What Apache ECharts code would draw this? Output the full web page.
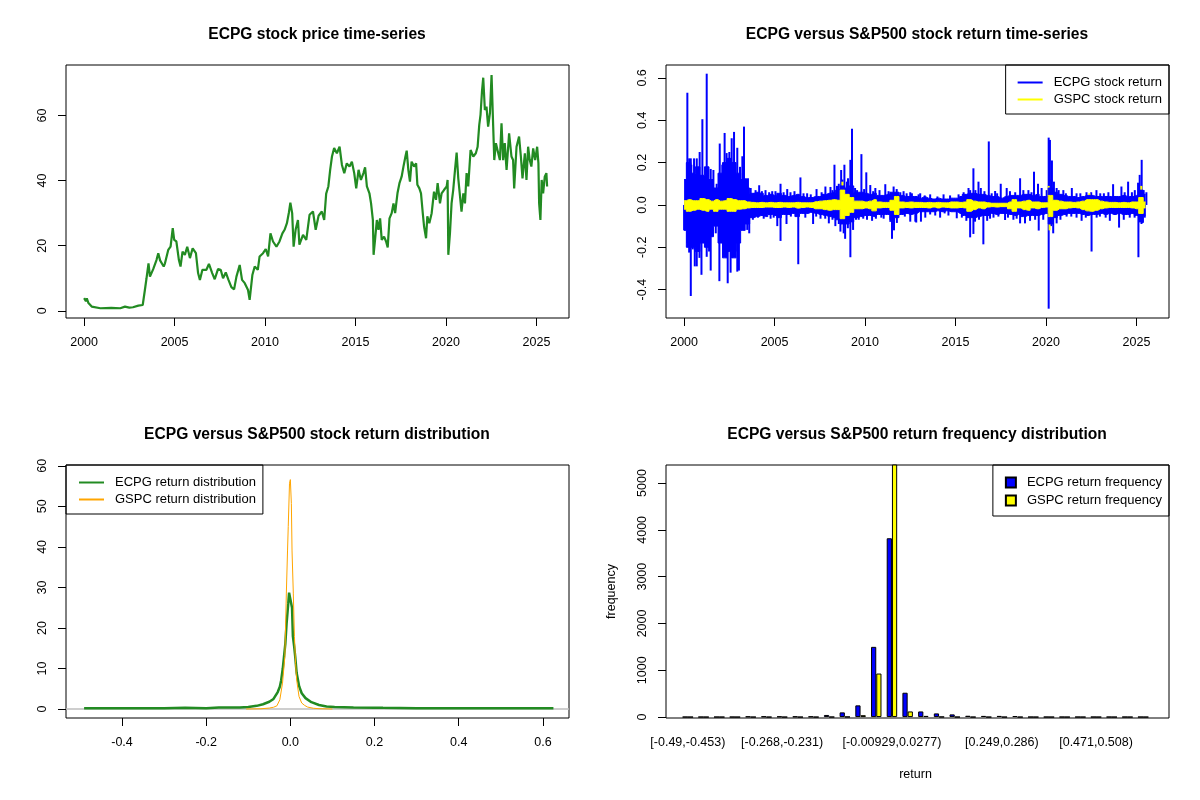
<!DOCTYPE html>
<html lang="en">
<head>
<meta charset="UTF-8" />
<title>ECPG versus S&amp;P500</title>
<style>
  html, body { margin: 0; padding: 0; background: #fff; }
  #chart { width: 1200px; height: 800px; }
</style>
<script src="https://cdn.jsdelivr.net/npm/echarts@6/dist/echarts.min.js"></script>
</head>
<body>
<div id="chart"></div>
<script>
// tick positions
const yearTicks = [2000, 2005, 2010, 2015, 2020, 2025]
const priceTicks = [0, 20, 40, 60]
const returnTicks = [-0.4, -0.2, 0, 0.2, 0.4, 0.6]
const densityTicks = [0, 10, 20, 30, 40, 50, 60]
const freqTicks = [0, 1000, 2000, 3000, 4000, 5000]

// ECPG close price [year, price]
const ecpgPrice = [
  [2000.0,3.9],[2000.1,3.0],[2000.15,3.8],[2000.24,2.4],[2000.42,1.3],[2000.9,0.8],[2001.5,0.9],[2001.55,1.2],
  [2002.0,0.8],[2002.26,1.3],[2002.5,1.0],[2002.7,1.1],[2003.0,1.6],[2003.24,1.8],[2003.36,6.4],[2003.45,10],
  [2003.56,14.6],[2003.64,10.5],[2003.82,12.8],[2004.0,15.6],[2004.1,17.7],[2004.2,15.5],[2004.28,16],[2004.4,13.6],
  [2004.47,14.6],[2004.65,18.7],[2004.78,19.7],[2004.9,25.4],[2004.98,21.8],[2005.1,21.3],[2005.24,15.6],[2005.33,13.6],
  [2005.44,18.2],[2005.57,17.2],[2005.7,19.7],[2005.85,16.2],[2006.0,19.2],[2006.18,17.7],[2006.3,11.6],[2006.4,9.5],
  [2006.54,12.6],[2006.76,12.6],[2006.9,14.4],[2007.08,11.6],[2007.22,9.7],[2007.4,12.8],[2007.55,12.6],[2007.68,10],
  [2007.83,11.8],[2007.98,9.5],[2008.14,7.3],[2008.29,6.6],[2008.42,10.5],[2008.6,14.1],[2008.73,9.5],[2008.88,8.5],
  [2009.06,6.4],[2009.15,3.4],[2009.3,11],[2009.43,13.6],[2009.6,12.6],[2009.7,16.7],[2009.89,17.7],[2010.04,19],
  [2010.17,16.7],[2010.3,23.8],[2010.44,21.3],[2010.63,19.7],[2010.8,21.3],[2010.96,23.8],[2011.08,24.9],[2011.21,26.9],
  [2011.32,30.2],[2011.4,33.2],[2011.5,30],[2011.58,19.7],[2011.69,24.9],[2011.82,27.9],[2011.9,20.3],[2012.1,23.3],
  [2012.28,21.8],[2012.46,29.5],[2012.65,30.5],[2012.8,24.9],[2012.96,29.2],[2013.14,30.5],[2013.27,27.9],[2013.38,36],
  [2013.5,38.2],[2013.6,43.3],[2013.7,47.4],[2013.82,50],[2013.97,48.4],[2014.12,50.4],[2014.25,44.8],[2014.38,42.3],
  [2014.52,45.3],[2014.67,44.3],[2014.8,45.8],[2014.93,42.3],[2015.04,37.6],[2015.17,43.3],[2015.3,40.2],[2015.44,42.3],
  [2015.53,44.1],[2015.63,38.2],[2015.77,36.1],[2015.86,33],[2015.96,27.9],[2016.0,17.2],[2016.08,21.8],[2016.18,27.9],
  [2016.27,24.9],[2016.36,28.4],[2016.45,21.8],[2016.58,22.8],[2016.69,21.3],[2016.78,19.5],[2016.88,28.4],[2017.0,30],
  [2017.1,33],[2017.19,30],[2017.32,36.1],[2017.43,39.2],[2017.55,41.2],[2017.65,44.3],[2017.76,47.4],[2017.83,49.2],
  [2017.92,43.3],[2018.01,39.7],[2018.1,45.8],[2018.24,44.3],[2018.35,45.3],[2018.42,38.7],[2018.53,37.6],[2018.62,36.1],
  [2018.71,30.5],[2018.79,25.9],[2018.9,22.3],[2018.97,29],[2019.08,26.9],[2019.21,30],[2019.34,36.6],[2019.45,34.1],
  [2019.54,39.2],[2019.67,33],[2019.76,36.1],[2019.89,37.1],[2020.04,38.2],[2020.09,40.2],[2020.13,17.2],[2020.22,23.8],
  [2020.31,33],[2020.4,37.1],[2020.5,43.3],[2020.59,48.6],[2020.68,40.7],[2020.77,40.2],[2020.86,30.5],[2020.96,36.1],
  [2021.05,33],[2021.14,42.3],[2021.23,38.2],[2021.36,49.4],[2021.51,47.4],[2021.65,48.4],[2021.75,50.4],[2021.84,57.1],
  [2021.91,60.2],[2021.99,67.3],[2022.06,71.6],[2022.15,61.7],[2022.24,62.7],[2022.33,56.6],[2022.43,60.7],[2022.52,72.4],
  [2022.61,56.6],[2022.67,46.3],[2022.76,51.5],[2022.89,48.4],[2022.98,46.3],[2023.07,57.6],[2023.16,46.3],[2023.25,51.5],
  [2023.35,43.3],[2023.49,54.5],[2023.62,47.4],[2023.71,46.3],[2023.77,37.6],[2023.9,50.4],[2024.04,53.5],[2024.14,47.4],
  [2024.23,40.7],[2024.36,48.4],[2024.45,40.2],[2024.54,50.4],[2024.63,46.3],[2024.72,44.3],[2024.82,49.9],[2024.93,46.3],
  [2025.04,50.4],[2025.11,45.3],[2025.15,33],[2025.22,27.9],[2025.29,40.2],[2025.37,36.1],[2025.46,41.2],[2025.55,42.3],
  [2025.59,38.2]
]

// dense core of the daily returns, per quarter [year, upper, lower]
const ecpgBand = [
  [2000.00,0.12,-0.12],[2000.25,0.2,-0.2],[2000.50,0.15,-0.2],[2000.75,0.18,-0.22],[2001.00,0.14,-0.18],
  [2001.25,0.18,-0.2],[2001.50,0.12,-0.15],[2001.75,0.08,-0.1],[2002.00,0.15,-0.18],[2002.25,0.2,-0.25],
  [2002.50,0.22,-0.22],[2002.75,0.2,-0.25],[2003.00,0.15,-0.18],[2003.25,0.12,-0.12],[2003.50,0.08,-0.09],
  [2003.75,0.055,-0.06],[2004.00,0.06,-0.055],[2004.25,0.055,-0.05],[2004.50,0.045,-0.055],[2004.75,0.05,-0.045],
  [2005.00,0.045,-0.05],[2005.25,0.055,-0.06],[2005.50,0.045,-0.045],[2005.75,0.04,-0.045],[2006.00,0.045,-0.04],
  [2006.25,0.05,-0.055],[2006.50,0.04,-0.04],[2006.75,0.035,-0.04],[2007.00,0.035,-0.035],[2007.25,0.04,-0.04],
  [2007.50,0.04,-0.045],[2007.75,0.05,-0.05],[2008.00,0.055,-0.055],[2008.25,0.06,-0.06],[2008.50,0.07,-0.07],
  [2008.75,0.09,-0.09],[2009.00,0.08,-0.09],[2009.25,0.09,-0.08],[2009.50,0.06,-0.06],[2009.75,0.06,-0.055],
  [2010.00,0.055,-0.05],[2010.25,0.05,-0.05],[2010.50,0.055,-0.055],[2010.75,0.045,-0.045],[2011.00,0.045,-0.045],
  [2011.25,0.05,-0.045],[2011.50,0.06,-0.07],[2011.75,0.06,-0.06],[2012.00,0.045,-0.045],[2012.25,0.04,-0.04],
  [2012.50,0.04,-0.045],[2012.75,0.04,-0.04],[2013.00,0.032,-0.032],[2013.25,0.038,-0.032],[2013.50,0.032,-0.032],
  [2013.75,0.028,-0.032],[2014.00,0.032,-0.028],[2014.25,0.028,-0.032],[2014.50,0.028,-0.028],[2014.75,0.032,-0.032],
  [2015.00,0.032,-0.032],[2015.25,0.04,-0.04],[2015.50,0.05,-0.05],[2015.75,0.055,-0.06],[2016.00,0.055,-0.06],
  [2016.25,0.05,-0.055],[2016.50,0.05,-0.05],[2016.75,0.045,-0.05],[2017.00,0.04,-0.04],[2017.25,0.04,-0.045],
  [2017.50,0.032,-0.04],[2017.75,0.04,-0.04],[2018.00,0.045,-0.045],[2018.25,0.045,-0.05],[2018.50,0.045,-0.045],
  [2018.75,0.05,-0.055],[2019.00,0.05,-0.05],[2019.25,0.045,-0.05],[2019.50,0.05,-0.05],[2019.75,0.04,-0.045],
  [2020.00,0.04,-0.04],[2020.25,0.08,-0.09],[2020.50,0.06,-0.06],[2020.75,0.05,-0.05],[2021.00,0.045,-0.045],
  [2021.25,0.04,-0.04],[2021.50,0.04,-0.04],[2021.75,0.035,-0.04],[2022.00,0.04,-0.045],[2022.25,0.045,-0.05],
  [2022.50,0.045,-0.045],[2022.75,0.04,-0.045],[2023.00,0.04,-0.04],[2023.25,0.04,-0.045],[2023.50,0.04,-0.04],
  [2023.75,0.04,-0.045],[2024.00,0.04,-0.04],[2024.25,0.045,-0.045],[2024.50,0.04,-0.045],[2024.75,0.04,-0.04],
  [2025.00,0.045,-0.05],[2025.25,0.07,-0.08],[2025.50,0.05,-0.05]
]

// single-day returns sticking out of the core [year, return]
const ecpgSpikes = [
  [2000.18,0.53],[2000.28,0.22],[2000.37,0.22],[2000.40,0.19],[2000.55,0.22],[2000.70,0.22],[2000.86,0.25],
  [2001.01,0.405],[2001.25,0.62],[2001.38,0.11],[2001.47,0.17],[2001.62,0.165],[2001.80,0.10],[2001.97,0.29],
  [2002.11,0.19],[2002.24,0.34],[2002.35,0.245],[2002.50,0.25],[2002.63,0.315],[2002.76,0.345],[2002.94,0.27],
  [2003.09,0.18],[2003.22,0.23],[2003.31,0.37],[2003.42,0.126],[2003.53,0.126],[2003.68,0.08],[2003.86,0.055],
  [2003.95,0.07],[2004.15,0.093],[2004.3,0.065],[2004.50,0.07],[2004.7,0.06],[2004.87,0.065],[2005.05,0.065],
  [2005.33,0.10],[2005.5,0.06],[2005.70,0.075],[2005.88,0.06],[2006.1,0.065],[2006.43,0.13],[2006.6,0.055],
  [2006.80,0.055],[2007.0,0.05],[2007.32,0.075],[2007.6,0.06],[2007.81,0.087],[2008.09,0.085],[2008.2,0.07],
  [2008.31,0.19],[2008.45,0.09],[2008.55,0.1],[2008.68,0.165],[2008.75,0.12],[2008.86,0.19],[2009.0,0.11],
  [2009.06,0.126],[2009.19,0.213],[2009.28,0.36],[2009.45,0.08],[2009.56,0.07],[2009.80,0.24],[2009.95,0.075],
  [2010.07,0.154],[2010.29,0.094],[2010.45,0.065],[2010.57,0.08],[2010.8,0.07],[2011.12,0.098],[2011.3,0.065],
  [2011.58,0.087],[2011.75,0.075],[2011.95,0.06],[2012.13,0.065],[2012.3,0.055],[2012.50,0.06],[2012.59,0.055],
  [2012.96,0.05],[2013.05,0.055],[2013.3,0.045],[2013.60,0.05],[2014.0,0.04],[2014.34,0.05],[2014.7,0.045],
  [2015.17,0.05],[2015.45,0.06],[2015.72,0.08],[2015.81,0.07],[2015.99,0.173],[2016.1,0.07],[2016.27,0.11],
  [2016.40,0.08],[2016.6,0.065],[2016.84,0.30],[2017.00,0.055],[2017.19,0.066],[2017.3,0.055],[2017.50,0.10],
  [2017.83,0.08],[2018.01,0.065],[2018.3,0.06],[2018.57,0.126],[2018.75,0.07],[2019.03,0.07],[2019.2,0.06],
  [2019.34,0.157],[2019.56,0.10],[2019.76,0.08],[2020.04,0.07],[2020.15,0.318],[2020.22,0.307],[2020.3,0.12],
  [2020.33,0.21],[2020.44,0.11],[2020.59,0.08],[2020.7,0.07],[2020.96,0.07],[2021.1,0.055],[2021.43,0.08],
  [2021.69,0.055],[2021.9,0.055],[2022.24,0.06],[2022.5,0.06],[2022.79,0.07],[2023.0,0.055],[2023.20,0.055],
  [2023.45,0.06],[2023.71,0.098],[2024.17,0.087],[2024.35,0.06],[2024.54,0.11],[2024.75,0.06],[2024.91,0.07],
  [2025.09,0.105],[2025.18,0.142],[2025.29,0.213],[2025.4,0.07],[2025.55,0.06],
  [2000.0,-0.12],[2000.18,-0.18],[2000.28,-0.225],[2000.37,-0.43],[2000.48,-0.21],[2000.59,-0.29],[2000.70,-0.29],
  [2000.85,-0.25],[2000.96,-0.33],[2001.07,-0.165],[2001.25,-0.245],[2001.38,-0.22],[2001.47,-0.31],[2001.62,-0.095],
  [2001.75,-0.134],[2001.95,-0.36],[2002.06,-0.157],[2002.17,-0.19],[2002.30,-0.18],[2002.41,-0.37],[2002.57,-0.32],
  [2002.67,-0.25],[2002.85,-0.22],[2002.94,-0.315],[2003.03,-0.31],[2003.31,-0.095],[2003.49,-0.118],[2003.60,-0.134],
  [2003.8,-0.07],[2004.08,-0.06],[2004.4,-0.065],[2004.78,-0.065],[2004.95,-0.06],[2005.15,-0.10],[2005.33,-0.17],
  [2005.66,-0.09],[2005.9,-0.055],[2006.31,-0.28],[2006.7,-0.06],[2007.13,-0.09],[2007.3,-0.055],[2007.54,-0.065],
  [2007.8,-0.065],[2008.00,-0.087],[2008.2,-0.07],[2008.36,-0.10],[2008.55,-0.09],[2008.64,-0.126],[2008.82,-0.134],
  [2008.90,-0.16],[2009.05,-0.11],[2009.19,-0.247],[2009.34,-0.118],[2009.5,-0.07],[2009.65,-0.07],[2009.9,-0.065],
  [2010.11,-0.07],[2010.39,-0.075],[2010.6,-0.065],[2010.9,-0.06],[2011.03,-0.065],[2011.4,-0.08],[2011.49,-0.16],
  [2011.6,-0.12],[2011.76,-0.085],[2012.2,-0.055],[2012.50,-0.079],[2012.78,-0.079],[2012.83,-0.083],[2013.09,-0.079],
  [2013.33,-0.06],[2013.6,-0.045],[2013.88,-0.05],[2014.15,-0.06],[2014.4,-0.04],[2014.61,-0.05],[2015.07,-0.063],
  [2015.35,-0.06],[2015.6,-0.075],[2015.81,-0.153],[2015.99,-0.137],[2016.08,-0.079],[2016.3,-0.07],[2016.54,-0.186],
  [2016.75,-0.075],[2016.91,-0.065],[2017.1,-0.06],[2017.37,-0.055],[2017.74,-0.071],[2017.9,-0.06],[2018.2,-0.07],
  [2018.38,-0.065],[2018.57,-0.087],[2018.84,-0.087],[2019.12,-0.075],[2019.4,-0.07],[2019.60,-0.121],[2019.85,-0.07],
  [2020.15,-0.49],[2020.28,-0.10],[2020.40,-0.134],[2020.59,-0.087],[2020.8,-0.07],[2021.14,-0.055],[2021.4,-0.055],
  [2021.69,-0.06],[2021.97,-0.075],[2022.2,-0.06],[2022.52,-0.22],[2022.8,-0.06],[2022.98,-0.055],[2023.3,-0.06],
  [2023.53,-0.075],[2024.04,-0.107],[2024.3,-0.07],[2024.63,-0.06],[2024.9,-0.06],[2025.11,-0.247],[2025.28,-0.09],
  [2025.35,-0.085],[2025.46,-0.06]
]

const gspcBand = [
  [2000.00,0.02,-0.02],[2000.25,0.025,-0.03],[2000.50,0.02,-0.025],[2000.75,0.02,-0.02],[2001.00,0.03,-0.025],
  [2001.25,0.025,-0.03],[2001.50,0.018,-0.02],[2001.75,0.025,-0.03],[2002.00,0.018,-0.02],[2002.25,0.02,-0.02],
  [2002.50,0.03,-0.03],[2002.75,0.025,-0.03],[2003.00,0.02,-0.02],[2003.25,0.02,-0.018],[2003.50,0.014,-0.014],
  [2003.75,0.012,-0.012],[2004.00,0.01,-0.012],[2004.25,0.012,-0.012],[2004.50,0.01,-0.01],[2004.75,0.012,-0.01],
  [2005.00,0.01,-0.012],[2005.25,0.012,-0.012],[2005.50,0.01,-0.01],[2005.75,0.01,-0.012],[2006.00,0.01,-0.01],
  [2006.25,0.012,-0.015],[2006.50,0.01,-0.012],[2006.75,0.01,-0.01],[2007.00,0.01,-0.012],[2007.25,0.015,-0.018],
  [2007.50,0.018,-0.018],[2007.75,0.02,-0.022],[2008.00,0.022,-0.025],[2008.25,0.025,-0.022],[2008.50,0.022,-0.022],
  [2008.75,0.07,-0.065],[2009.00,0.05,-0.05],[2009.25,0.035,-0.035],[2009.50,0.018,-0.018],[2009.75,0.018,-0.018],
  [2010.00,0.014,-0.014],[2010.25,0.018,-0.018],[2010.50,0.025,-0.028],[2010.75,0.014,-0.014],[2011.00,0.012,-0.012],
  [2011.25,0.012,-0.012],[2011.50,0.022,-0.025],[2011.75,0.04,-0.045],[2012.00,0.014,-0.014],[2012.25,0.012,-0.012],
  [2012.50,0.014,-0.014],[2012.75,0.012,-0.012],[2013.00,0.012,-0.012],[2013.25,0.01,-0.012],[2013.50,0.012,-0.014],
  [2013.75,0.01,-0.01],[2014.00,0.012,-0.014],[2014.25,0.01,-0.01],[2014.50,0.01,-0.012],[2014.75,0.014,-0.014],
  [2015.00,0.014,-0.014],[2015.25,0.012,-0.012],[2015.50,0.014,-0.014],[2015.75,0.025,-0.03],[2016.00,0.018,-0.022],
  [2016.25,0.014,-0.014],[2016.50,0.014,-0.018],[2016.75,0.01,-0.01],[2017.00,0.008,-0.008],[2017.25,0.008,-0.01],
  [2017.50,0.008,-0.008],[2017.75,0.008,-0.008],[2018.00,0.014,-0.018],[2018.25,0.025,-0.03],[2018.50,0.014,-0.014],
  [2018.75,0.018,-0.022],[2019.00,0.022,-0.025],[2019.25,0.014,-0.014],[2019.50,0.014,-0.018],[2019.75,0.01,-0.012],
  [2020.00,0.01,-0.01],[2020.25,0.045,-0.055],[2020.50,0.022,-0.025],[2020.75,0.018,-0.018],[2021.00,0.014,-0.018],
  [2021.25,0.014,-0.014],[2021.50,0.012,-0.012],[2021.75,0.014,-0.014],[2022.00,0.018,-0.022],[2022.25,0.025,-0.028],
  [2022.50,0.025,-0.03],[2022.75,0.025,-0.025],[2023.00,0.018,-0.018],[2023.25,0.014,-0.014],[2023.50,0.012,-0.012],
  [2023.75,0.012,-0.012],[2024.00,0.01,-0.012],[2024.25,0.012,-0.012],[2024.50,0.01,-0.012],[2024.75,0.014,-0.014],
  [2025.00,0.014,-0.018],[2025.25,0.035,-0.04],[2025.50,0.014,-0.014]
]

const gspcSpikes = [
  [2000.3,0.05],[2000.35,-0.06],[2000.8,0.045],[2001.0,0.05],[2001.2,-0.05],[2001.7,-0.045],[2001.72,0.045],
  [2002.5,0.05],[2002.55,-0.045],[2003.2,0.035],[2008.75,0.11],[2008.8,-0.09],[2008.95,0.08],[2009.1,-0.055],
  [2010.35,0.04],[2010.38,-0.04],[2011.6,0.045],[2011.62,-0.065],[2015.6,-0.04],[2016.1,0.035],[2018.1,-0.045],
  [2018.9,0.05],[2020.15,0.09],[2020.2,-0.12],[2020.25,0.07],[2022.4,0.055],[2022.7,-0.045],[2025.27,0.09],
  [2025.25,-0.06]
]

// kernel density estimates [return, density]
const ecpgDensity = [
  [-0.49,0.2],[-0.3,0.2],[-0.25,0.3],[-0.2,0.2],[-0.17,0.4],[-0.12,0.4],[-0.1,0.5],[-0.08,0.8],[-0.065,1.2],
  [-0.05,1.8],[-0.04,2.5],[-0.03,4.2],[-0.025,5.5],[-0.022,7],[-0.018,10],[-0.015,13],[-0.012,16],[-0.009,21],
  [-0.005,26],[-0.003,28.7],[0.0015,28.7],[0.004,25],[0.006,18],[0.009,15.5],[0.0115,13],[0.015,8.9],
  [0.021,5.6],[0.027,3.9],[0.036,2.7],[0.05,1.7],[0.068,1.0],[0.086,0.66],[0.105,0.5],[0.15,0.4],[0.2,0.35],
  [0.22,0.3],[0.3,0.2],[0.625,0.2]
]
const gspcDensity = [
  [-0.105,0.02],[-0.07,0.08],[-0.05,0.25],[-0.04,0.45],[-0.032,0.8],[-0.025,2.3],[-0.0186,6.4],[-0.013,13],
  [-0.0095,28.6],[-0.0067,39],[-0.005,45],[-0.002,55.7],[0,56.6],[0.0024,50.7],[0.004,39],[0.007,28.6],
  [0.0097,17.9],[0.0124,11.3],[0.015,7.2],[0.0206,3.1],[0.027,1.5],[0.034,0.9],[0.041,0.5],[0.055,0.2],
  [0.068,0.1],[0.1,0.02]
]

// return histogram
const binLabels = [
  '[-0.49,-0.453)','[-0.453,-0.416)','[-0.416,-0.379)','[-0.379,-0.342)','[-0.342,-0.305)','[-0.305,-0.268)',
  '[-0.268,-0.231)','[-0.231,-0.194)','[-0.194,-0.157)','[-0.157,-0.12)','[-0.12,-0.0833)','[-0.0833,-0.0463)',
  '[-0.0463,-0.00929)','[-0.00929,0.0277)','[0.0277,0.0647)','[0.0647,0.102)','[0.102,0.139)','[0.139,0.176)',
  '[0.176,0.213)','[0.213,0.249)','[0.249,0.286)','[0.286,0.324)','[0.324,0.36)','[0.36,0.397)','[0.397,0.434)',
  '[0.434,0.471)','[0.471,0.508)','[0.508,0.545)','[0.545,0.582)','[0.582,0.619]'
]
const shownBins = [0, 6, 13, 20, 26]
const ecpgFreq = [1,1,1,1,12,14,12,12,12,45,100,250,1500,3820,520,120,78,57,28,25,25,22,1,1,1,1,1,1,1,1]
const gspcFreq = [0,0,0,0,0,0,0,0,0,2,5,40,930,5540,120,25,5,1,0,0,0,0,0,0,0,0,0,0,0,0]

const font = "'Liberation Sans', Arial, sans-serif"
const black = '#000'
const fmt1 = v => v.toFixed(1)

function valueAxis(gridIndex, min, max, ticks, formatter, extra) {
  return Object.assign({
    type: 'value',
    gridIndex,
    min,
    max,
    splitLine: { show: false },
    axisLine: { show: false, onZero: false },
    axisTick: { show: true, length: 8, customValues: ticks, lineStyle: { color: black } },
    axisLabel: {
      customValues: ticks,
      formatter,
      color: black,
      fontSize: 12.5,
      fontFamily: font,
      margin: 18
    }
  }, extra)
}

function yValueAxis(gridIndex, min, max, ticks, formatter, extra) {
  const ax = valueAxis(gridIndex, min, max, ticks, formatter, extra)
  ax.axisLabel.rotate = 90
  ax.axisLabel.margin = 17
  return ax
}

const hiddenAxis = i => ({ type: 'value', gridIndex: i, show: false, min: 0, max: 1 })

function boxGrid(left, top) {
  return { left, top, width: 503, height: 253, show: true, borderColor: black, borderWidth: 1, backgroundColor: 'transparent' }
}

function titleAt(text, x, y) {
  return {
    text, left: x, top: y, textAlign: 'center', padding: 0,
    textStyle: { fontSize: 15.6, fontWeight: 'bold', color: black, fontFamily: font }
  }
}

function boxedLegend(names, pos, extra) {
  return Object.assign({
    data: names,
    orient: 'vertical',
    selectedMode: false,
    borderColor: black,
    borderWidth: 1,
    borderRadius: 0,
    itemGap: 4,
    itemWidth: 25,
    itemHeight: 12,
    itemStyle: { opacity: 0 },
    textStyle: { fontSize: 13, color: black, fontFamily: font, padding: [0, 0, 0, 6] }
  }, pos, extra)
}

const lineOnly = (name, color, width) => ({
  name, type: 'line', xAxisIndex: 1, yAxisIndex: 1, data: [], symbol: 'none',
  lineStyle: { color, width }, itemStyle: { color }
})

const band = (name, data, color) => ({
  name, type: 'line', xAxisIndex: 1, yAxisIndex: 1, data, symbol: 'none', step: 'middle',
  lineStyle: { color, width: 1 }, areaStyle: { color, opacity: 1, origin: 'auto' }
})

const spikes = (name, data, color) => ({
  name, type: 'bar', xAxisIndex: 1, yAxisIndex: 1, data, barWidth: 2, barGap: '-100%',
  itemStyle: { color }
})

const chart = echarts.init(document.getElementById('chart'))

chart.setOption({
  animation: false,
  backgroundColor: '#fff',
  title: [
    titleAt('ECPG stock price time-series', 317, 27),
    titleAt('ECPG versus S&P500 stock return time-series', 917, 27),
    titleAt('ECPG versus S&P500 stock return distribution', 317, 427),
    titleAt('ECPG versus S&P500 return frequency distribution', 917, 427)
  ],
  grid: [
    boxGrid(66, 65),
    boxGrid(666, 65),
    boxGrid(66, 465),
    { left: 680, top: 465, width: 471, height: 253, show: false },
    boxGrid(666, 465)
  ],
  xAxis: [
    valueAxis(0, 1999.0, 2026.8, yearTicks, v => String(v)),
    valueAxis(1, 1999.0, 2026.8, yearTicks, v => String(v)),
    valueAxis(2, -0.533, 0.662, returnTicks, fmt1),
    {
      type: 'category',
      gridIndex: 3,
      data: binLabels,
      axisLine: { show: false, onZero: false },
      axisTick: { show: false },
      axisLabel: {
        interval: i => shownBins.includes(i),
        color: black, fontSize: 12.5, fontFamily: font, margin: 18
      },
      name: 'return',
      nameLocation: 'middle',
      nameGap: 50,
      nameTextStyle: { color: black, fontSize: 12.5, fontFamily: font }
    },
    hiddenAxis(4)
  ],
  yAxis: [
    yValueAxis(0, -2.2, 75.5, priceTicks, v => String(v)),
    yValueAxis(1, -0.534, 0.661, returnTicks, fmt1),
    yValueAxis(2, -2.2, 60.2, densityTicks, v => String(v)),
    yValueAxis(3, -20, 5385, freqTicks, v => String(v), {
      offset: 14,
      name: 'frequency',
      nameLocation: 'middle',
      nameGap: 48,
      nameTextStyle: { color: black, fontSize: 12.5, fontFamily: font }
    }),
    hiddenAxis(4)
  ],
  legend: [
    boxedLegend(['ECPG stock return', 'GSPC stock return'], { right: 31, top: 65 }, { padding: [11, 7, 8, 11] }),
    boxedLegend(['ECPG return distribution', 'GSPC return distribution'], { left: 66, top: 465 }, { padding: [11, 7, 8, 12] }),
    boxedLegend(['ECPG return frequency', 'GSPC return frequency'], { right: 31, top: 465 }, {
      icon: 'rect', itemWidth: 10, itemHeight: 10, itemGap: 5, itemStyle: {}, padding: [11, 7, 9, 12]
    })
  ],
  series: [
    {
      name: 'ECPG price', type: 'line', xAxisIndex: 0, yAxisIndex: 0, data: ecpgPrice, symbol: 'none',
      lineStyle: { color: '#228B22', width: 2.2 }
    },

    lineOnly('ECPG stock return', '#0000FF', 3),
    lineOnly('GSPC stock return', '#FFFF00', 1),
    band('ECPG upper', ecpgBand.map(d => [d[0], d[1]]), '#0000FF'),
    band('ECPG lower', ecpgBand.map(d => [d[0], d[2]]), '#0000FF'),
    spikes('ECPG spikes', ecpgSpikes, '#0000FF'),
    band('GSPC upper', gspcBand.map(d => [d[0], d[1]]), '#FFFF00'),
    band('GSPC lower', gspcBand.map(d => [d[0], d[2]]), '#FFFF00'),
    spikes('GSPC spikes', gspcSpikes, '#FFFF00'),

    {
      name: 'ECPG return distribution', type: 'line', xAxisIndex: 2, yAxisIndex: 2, data: ecpgDensity,
      symbol: 'none', lineStyle: { color: '#228B22', width: 2.5 }, itemStyle: { color: '#228B22' },
      markLine: {
        silent: true, symbol: 'none', z: 1, label: { show: false },
        lineStyle: { color: '#BEBEBE', type: 'solid', width: 1.5 },
        data: [{ yAxis: 0 }]
      }
    },
    {
      name: 'GSPC return distribution', type: 'line', xAxisIndex: 2, yAxisIndex: 2, data: gspcDensity,
      symbol: 'none', lineStyle: { color: '#FFA500', width: 1 }, itemStyle: { color: '#FFA500' }
    },

    {
      name: 'ECPG return frequency', type: 'bar', xAxisIndex: 3, yAxisIndex: 3, data: ecpgFreq,
      barGap: '0%', barCategoryGap: '33.33%',
      itemStyle: { color: '#0000FF', borderColor: black, borderWidth: 1 }
    },
    {
      name: 'GSPC return frequency', type: 'bar', xAxisIndex: 3, yAxisIndex: 3, data: gspcFreq,
      barGap: '0%', barCategoryGap: '33.33%',
      itemStyle: { color: '#FFFF00', borderColor: black, borderWidth: 1 }
    }
  ]
})
</script>
</body>
</html>
